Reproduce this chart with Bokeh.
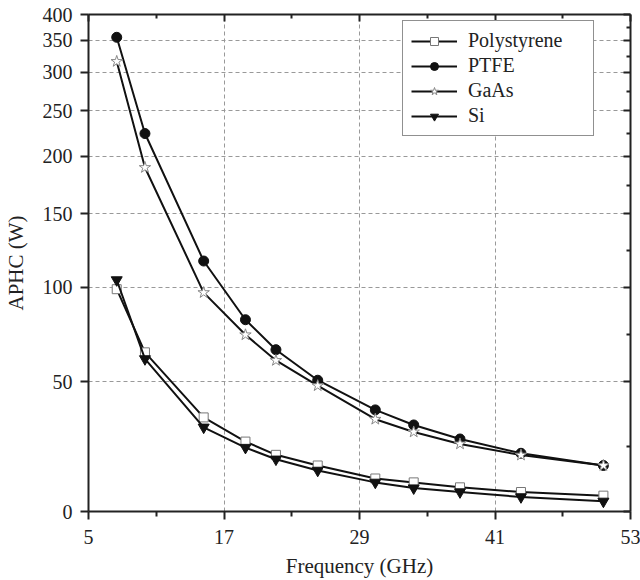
import numpy as np
from bokeh.plotting import figure
from bokeh.models import Range1d, FixedTicker, LinearAxis, CustomJSTickFormatter
from bokeh.embed import file_html
from bokeh.resources import INLINE

# ---- data ----
freq = [7.5, 10.0, 15.2, 18.9, 21.6, 25.3, 30.4, 33.8, 37.9, 43.3, 50.6]
polystyrene = [99.0, 65.5, 36.2, 26.9, 21.8, 17.7, 12.7, 11.2, 9.3, 7.5, 6.1]
ptfe = [355.8, 225.0, 117.9, 82.8, 66.9, 50.7, 39.1, 33.3, 27.9, 22.4, 17.7]
gaas = [316.7, 190.3, 97.2, 74.8, 61.2, 48.4, 35.5, 30.6, 26.0, 21.7, 17.7]
si = [105.0, 62.0, 32.4, 24.6, 20.1, 15.8, 11.2, 9.0, 7.5, 5.6, 3.9]

x_ticks = [5, 17, 29, 41, 53]
x_minor = [11, 23, 35, 47]
x_grid = [17, 29, 41]
y_tick_values = [0, 50, 100, 150, 200, 250, 300, 350, 400]
y_minor_values = [25, 75, 125, 175, 225, 275, 325, 375]
y_grid_values = [50, 100, 150, 200, 250, 300, 350]

# non-linear y scale of the original axis (tick value -> axis coordinate)
y_scale_pos = [0, 131, 226, 300, 358, 404, 443, 475, 501]


def ymap(v):
    return np.interp(np.asarray(v, dtype=float), y_tick_values, y_scale_pos)


FONT = "'Liberation Serif', serif"

p = figure(width=640, height=580, output_backend="svg", toolbar_location=None,
           x_range=Range1d(5, 53), y_range=Range1d(0, 501),
           min_border_left=85, min_border_right=10, min_border_top=14, min_border_bottom=65)
p.outline_line_color = None
p.background_fill_color = "white"
p.border_fill_color = "white"

series = [
    ("Polystyrene", polystyrene, "square", 9, "white", "#777777"),
    ("PTFE", ptfe, "circle", 10, "#111111", "#111111"),
    ("GaAs", gaas, "star", 12, "white", "#888888"),
    ("Si", si, "inverted_triangle", 11, "#111111", "#111111"),
]
for name, vals, marker, size, fill, edge in series:
    yv = ymap(vals)
    p.line(freq, yv, line_color="#111111", line_width=2, legend_label=name)
    p.scatter(freq, yv, marker=marker, size=size, fill_color=fill,
              line_color=edge, line_width=1, legend_label=name)

# grids
p.xgrid.ticker = FixedTicker(ticks=x_grid)
p.ygrid.ticker = FixedTicker(ticks=[float(v) for v in ymap(y_grid_values)])
for g in (p.xgrid, p.ygrid):
    g.grid_line_color = "#999999"
    g.grid_line_dash = "4 3"
    g.grid_line_width = 1

# bottom axis
xa = p.xaxis[0]
xa.ticker = FixedTicker(ticks=x_ticks, minor_ticks=x_minor)
xa.axis_label = "Frequency (GHz)"
# left axis
ya = p.yaxis[0]
ya.ticker = FixedTicker(ticks=y_scale_pos)
ya.major_label_overrides = {pos: str(v) for pos, v in zip(y_scale_pos, y_tick_values)}
ya.axis_label = "APHC (W)"
ya.minor_tick_in = 0
ya.minor_tick_out = 0

for ax in (xa, ya):
    ax.axis_line_width = 2
    ax.axis_line_color = "#222222"
    ax.major_tick_line_width = 2
    ax.major_tick_line_color = "#222222"
    ax.minor_tick_line_width = 2
    ax.minor_tick_line_color = "#222222"
    ax.major_tick_in = 0
    ax.major_tick_out = 8
    ax.major_label_text_font = FONT
    ax.major_label_text_font_size = "20px"
    ax.major_label_text_color = "#222222"
    ax.axis_label_text_font = FONT
    ax.axis_label_text_font_size = "21px"
    ax.axis_label_text_font_style = "normal"
    ax.axis_label_text_color = "#222222"
xa.minor_tick_in = 0
xa.minor_tick_out = 5
xa.major_label_standoff = 10
xa.axis_label_standoff = 7
ya.major_label_standoff = 8
ya.axis_label_standoff = 12

# mirrored axes (top and right), ticks pointing inward, no labels
blank = CustomJSTickFormatter(code="return ''")
top = LinearAxis(ticker=FixedTicker(ticks=x_ticks, minor_ticks=x_minor), formatter=blank,
                 major_tick_in=7, major_tick_out=0, minor_tick_in=4, minor_tick_out=0,
                 major_label_standoff=0)
right = LinearAxis(ticker=FixedTicker(ticks=y_scale_pos,
                                      minor_ticks=[float(v) for v in ymap(y_minor_values)]),
                   formatter=blank,
                   major_tick_in=7, major_tick_out=0, minor_tick_in=4, minor_tick_out=0,
                   major_label_standoff=0)
for ax in (top, right):
    ax.axis_line_width = 2
    ax.axis_line_color = "#222222"
    ax.major_tick_line_width = 2
    ax.major_tick_line_color = "#222222"
    ax.minor_tick_line_width = 2
    ax.minor_tick_line_color = "#222222"
p.add_layout(top, "above")
p.add_layout(right, "right")

# legend
lg = p.legend[0]
lg.location = (314, 375)
lg.label_text_font = FONT
lg.label_text_font_size = "20px"
lg.label_text_color = "#222222"
lg.glyph_width = 46
lg.glyph_height = 20
lg.label_height = 22
lg.label_width = 117
lg.label_standoff = 11
lg.spacing = 2
lg.padding = 8
lg.margin = 0
lg.border_line_color = "#222222"
lg.border_line_width = 1.5
lg.background_fill_alpha = 1.0

open("out.html", "w").write(file_html(p, INLINE))
